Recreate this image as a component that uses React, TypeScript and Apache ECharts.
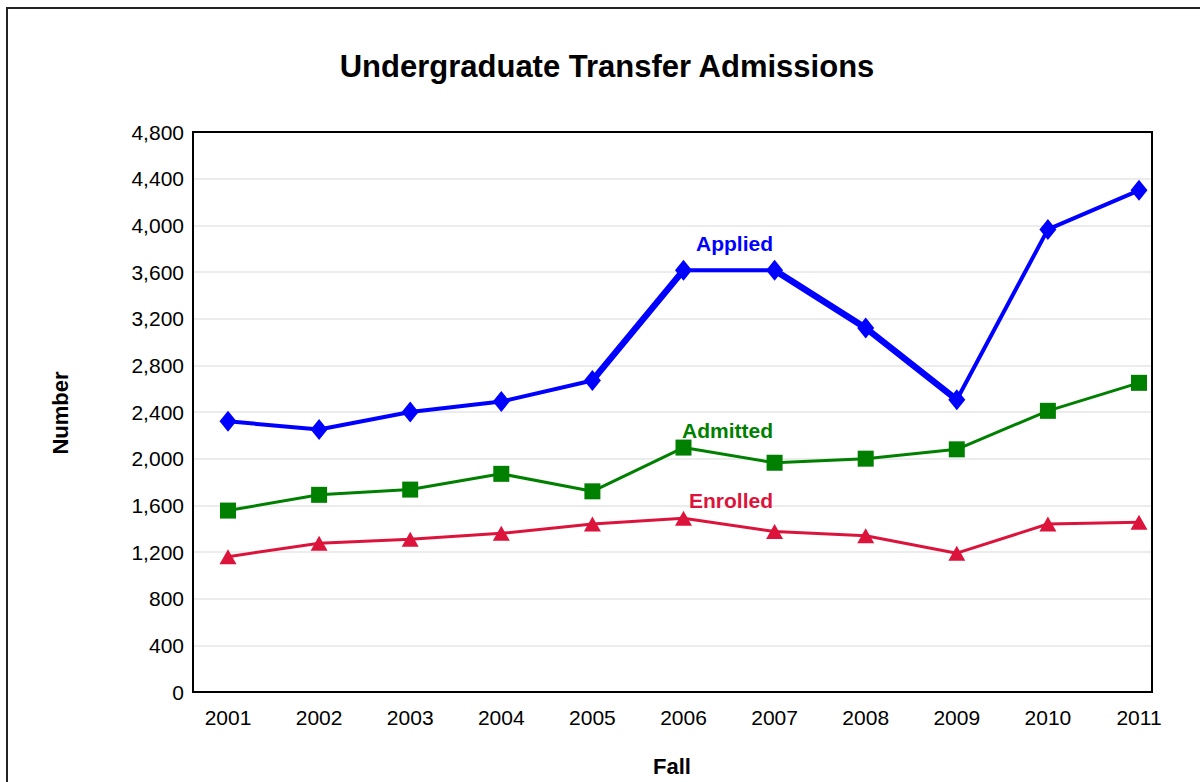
import React, { useEffect, useRef } from "react";
import * as echarts from "echarts";

const years = ["2001", "2002", "2003", "2004", "2005", "2006", "2007", "2008", "2009", "2010", "2011"];
const applied = [2320, 2250, 2400, 2490, 2670, 3615, 3615, 3120, 2505, 3965, 4300];
const admitted = [1555, 1690, 1735, 1870, 1720, 2095, 1965, 2000, 2080, 2410, 2650];
const enrolled = [1160, 1275, 1310, 1360, 1440, 1490, 1375, 1340, 1190, 1440, 1455];
const yTicks = [0, 400, 800, 1200, 1600, 2000, 2400, 2800, 3200, 3600, 4000, 4400, 4800];

const FONT = "'Liberation Sans', Arial, sans-serif";
const BLUE = "#0000FF";
const GREEN = "#008000";
const RED = "#DC143C";

export default function App() {
  const ref = useRef<HTMLDivElement>(null);
  useEffect(() => {
    document.body.style.margin = "0";
    if (!ref.current) return;
    const chart = echarts.init(ref.current, null, { renderer: "svg" });
    const thickA = applied.map((v, i) => (i === 4 || i === 5 ? v : null));
    const thickB = applied.map((v, i) => (i >= 6 && i <= 8 ? v : null));
    chart.setOption({
      animation: false,
      backgroundColor: "#ffffff",
      textStyle: { fontFamily: FONT },
      grid: [
        { left: 193, top: 132, width: 959, height: 560, show: false, containLabel: false },
        { left: 228, top: 132, width: 911, height: 560, containLabel: false },
      ],
      xAxis: [
        { type: "value", gridIndex: 0, show: false, min: 0, max: 1 },
        {
          type: "category",
          gridIndex: 1,
          data: years,
          boundaryGap: false,
          axisLine: { show: false },
          axisTick: { show: false },
          axisLabel: { fontSize: 21, color: "#000", fontFamily: FONT, margin: 15 },
          splitLine: { show: false },
        },
      ],
      yAxis: [
        {
          type: "value",
          gridIndex: 0,
          min: yTicks[0],
          max: yTicks[yTicks.length - 1],
          interval: yTicks[1] - yTicks[0],
          axisLine: { show: false },
          axisTick: { show: false },
          axisLabel: {
            fontSize: 21,
            color: "#000",
            fontFamily: FONT,
            margin: 9,
            formatter: (v: number) => v.toLocaleString("en-US"),
          },
          splitLine: { show: true, lineStyle: { color: "#E6E6E6", width: 1.5 } },
        },
        { type: "value", gridIndex: 1, min: 0, max: 4800, show: false, splitLine: { show: false } },
      ],
      series: [
        {
          name: "Applied",
          type: "line",
          xAxisIndex: 1,
          yAxisIndex: 1,
          data: thickA,
          showSymbol: false,
          connectNulls: false,
          lineStyle: { color: BLUE, width: 6.5 },
          itemStyle: { color: BLUE },
          silent: true,
        },
        {
          name: "Applied",
          type: "line",
          xAxisIndex: 1,
          yAxisIndex: 1,
          data: thickB,
          showSymbol: false,
          connectNulls: false,
          lineStyle: { color: BLUE, width: 6.5 },
          itemStyle: { color: BLUE },
          silent: true,
        },
        {
          name: "Applied",
          type: "line",
          xAxisIndex: 1,
          yAxisIndex: 1,
          data: applied,
          symbol: "diamond",
          symbolSize: [17, 21],
          lineStyle: { color: BLUE, width: 4 },
          itemStyle: { color: BLUE },
        },
        {
          name: "Admitted",
          type: "line",
          xAxisIndex: 1,
          yAxisIndex: 1,
          data: admitted,
          symbol: "rect",
          symbolSize: 16,
          lineStyle: { color: GREEN, width: 3 },
          itemStyle: { color: GREEN },
        },
        {
          name: "Enrolled",
          type: "line",
          xAxisIndex: 1,
          yAxisIndex: 1,
          data: enrolled,
          symbol: "triangle",
          symbolSize: [17, 15],
          lineStyle: { color: RED, width: 3 },
          itemStyle: { color: RED },
        },
      ],
      graphic: [
        {
          type: "rect",
          shape: { x: 7, y: 8, width: 1400, height: 1000 },
          style: { fill: "none", stroke: "#222", lineWidth: 2 },
          silent: true,
          z: 100,
        },
        {
          type: "rect",
          shape: { x: 193, y: 132, width: 959, height: 560 },
          style: { fill: "none", stroke: "#000", lineWidth: 2 },
          silent: true,
          z: 100,
        },
        {
          type: "text",
          x: 607,
          y: 66,
          style: {
            text: "Undergraduate Transfer Admissions",
            fontSize: 31,
            fontWeight: "bold",
            fontFamily: FONT,
            fill: "#000",
            textAlign: "center",
            textVerticalAlign: "middle",
          },
        },
        {
          type: "text",
          x: 60,
          y: 413,
          rotation: Math.PI / 2,
          style: {
            text: "Number",
            fontSize: 22,
            fontWeight: "bold",
            fontFamily: FONT,
            fill: "#000",
            textAlign: "center",
            textVerticalAlign: "middle",
          },
        },
        {
          type: "text",
          x: 672,
          y: 766,
          style: {
            text: "Fall",
            fontSize: 22,
            fontWeight: "bold",
            fontFamily: FONT,
            fill: "#000",
            textAlign: "center",
            textVerticalAlign: "middle",
          },
        },
        {
          type: "text",
          x: 773,
          y: 243,
          z: 50,
          style: {
            text: "Applied",
            fontSize: 21,
            fontWeight: "bold",
            fontFamily: FONT,
            fill: BLUE,
            textAlign: "right",
            textVerticalAlign: "middle",
          },
        },
        {
          type: "text",
          x: 773,
          y: 430,
          z: 50,
          style: {
            text: "Admitted",
            fontSize: 21,
            fontWeight: "bold",
            fontFamily: FONT,
            fill: GREEN,
            textAlign: "right",
            textVerticalAlign: "middle",
          },
        },
        {
          type: "text",
          x: 773,
          y: 500,
          z: 50,
          style: {
            text: "Enrolled",
            fontSize: 21,
            fontWeight: "bold",
            fontFamily: FONT,
            fill: RED,
            textAlign: "right",
            textVerticalAlign: "middle",
          },
        },
      ],
    });
    return () => chart.dispose();
  }, []);
  return <div ref={ref} style={{ width: 1200, height: 782 }} />;
}
